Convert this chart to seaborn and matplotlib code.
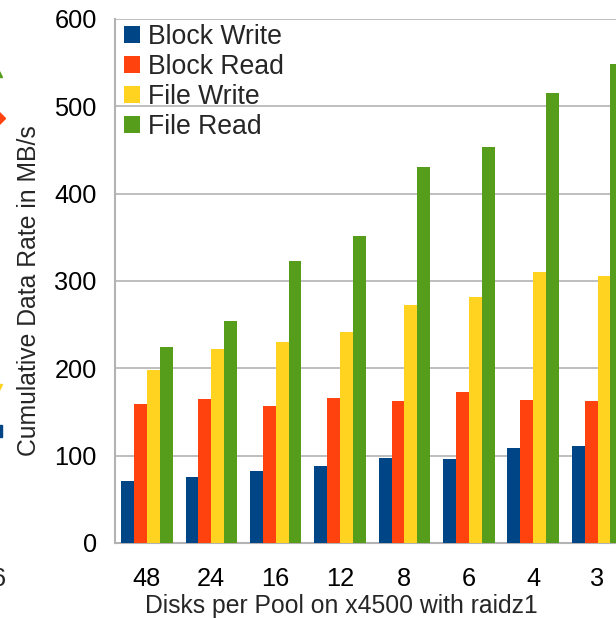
import matplotlib
matplotlib.use("Agg")
import matplotlib.pyplot as plt
import seaborn as sns
import pandas as pd
from matplotlib.lines import Line2D
from matplotlib.ticker import FixedLocator, MultipleLocator

# Pool sizes (disks per pool) on the x-axis
categories = ["48", "24", "16", "12", "8", "6", "4", "3"]

# Throughput per benchmark, MB/s
block_write = [71, 76, 83, 88, 97, 96, 109, 111]
block_read = [159, 165, 157, 166, 163, 173, 164, 163]
file_write = [198, 222, 230, 242, 273, 282, 310, 306]
file_read = [224, 254, 323, 352, 430, 454, 515, 549]

series_names = ["Block Write", "Block Read", "File Write", "File Read"]
series_values = [block_write, block_read, file_write, file_read]
palette = ["#004586", "#ff420e", "#ffd320", "#579d1c"]

rows = []
for name, vals in zip(series_names, series_values):
    for cat, v in zip(categories, vals):
        rows.append({"disks": cat, "rate": v, "test": name})
df = pd.DataFrame(rows)

sns.set_style("white")
plt.rcParams["font.family"] = ["Liberation Sans", "DejaVu Sans"]

W, H = 616, 618
grey = "#b3b3b3"
fig = plt.figure(figsize=(W / 100, H / 100), dpi=100)
ax = fig.add_axes([114.7 / W, 75 / H, 515 / W, 524 / H])

sns.barplot(data=df, x="disks", y="rate", hue="test", order=categories,
            hue_order=series_names, palette=palette, width=0.8,
            saturation=1, linewidth=0, ax=ax, zorder=3)

ax.set_ylim(0, 600)
ax.set_xlim(-0.5, len(categories) - 0.5)
ax.yaxis.set_major_locator(MultipleLocator(100))
ax.grid(axis="y", color=grey, linewidth=1.2, zorder=0)
ax.set_axisbelow(True)

for side in ("top", "right"):
    ax.spines[side].set_visible(False)
for side in ("left", "bottom"):
    ax.spines[side].set_color(grey)
    ax.spines[side].set_linewidth(1.5)

# category separators as ticks between groups
ax.xaxis.set_minor_locator(FixedLocator([i - 0.5 for i in range(len(categories) + 1)]))
ax.tick_params(axis="x", which="minor", length=8, width=1.5, color=grey, direction="out")
ax.tick_params(axis="x", which="major", length=0, pad=17, labelsize=18.3, labelcolor="black")
ax.tick_params(axis="y", which="major", length=8, width=1.5, color=grey,
               direction="out", pad=5, labelsize=18.3, labelcolor="black")

ax.set_xlabel("Disks per Pool on x4500 with raidz1", fontsize=17.8)
ax.set_ylabel("Cumulative Data Rate in MB/s", fontsize=17.8)
ax.xaxis.set_label_coords(0.441, -0.097)
ax.yaxis.set_label_coords(-0.143, 0.481)

ax.legend(loc="upper left", bbox_to_anchor=(0.018, 0.991), frameon=False,
          fontsize=19.2, handlelength=0.6, handleheight=0.6, handletextpad=0.3,
          labelspacing=0.15, borderaxespad=0, borderpad=0)

# edge of the neighbouring panel on the left: legend symbols and a tick label
edge_markers = [("^", "#579d1c", 71), ("D", "#ff420e", 118),
                ("v", "#ffd320", 390), ("s", "#004586", 431)]
for mk, col, ypx in edge_markers:
    fig.add_artist(Line2D([-4 / W], [1 - ypx / H], marker=mk, markersize=9,
                          color=col, linestyle="none", transform=fig.transFigure,
                          clip_on=False))
fig.text(6 / W, 1 - 579 / H, "6", ha="right", va="center", fontsize=18.3)

fig.savefig("out.png", dpi=100)
